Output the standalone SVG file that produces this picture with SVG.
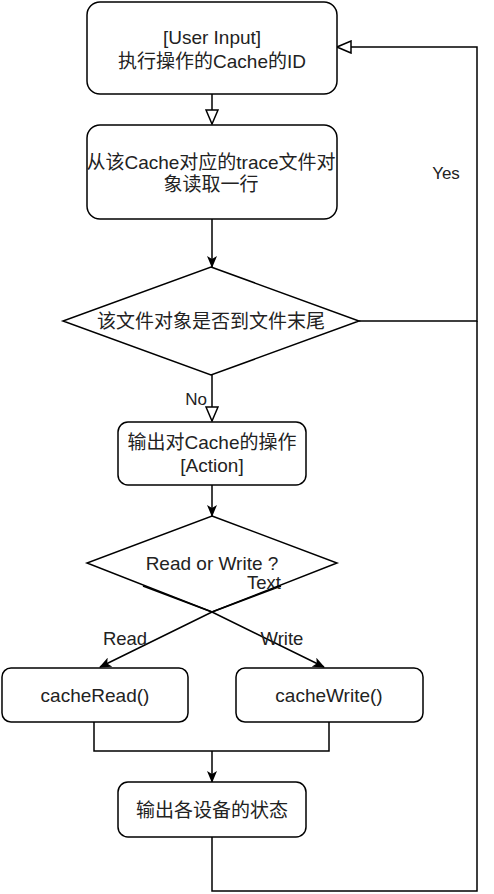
<svg xmlns="http://www.w3.org/2000/svg" width="494" height="894" viewBox="0 0 494 894">
<defs>
<marker id="open" viewBox="0 0 16 14" refX="15" refY="7" markerWidth="16" markerHeight="14" markerUnits="userSpaceOnUse" orient="auto">
<path d="M1,1 L15,7 L1,13 Z" fill="#fff" stroke="#000" stroke-width="1.5"/>
</marker>
<marker id="filled" viewBox="0 0 12 10" refX="11" refY="5" markerWidth="12" markerHeight="10" markerUnits="userSpaceOnUse" orient="auto">
<path d="M0,0 L12,5 L0,10 L3,5 Z" fill="#000"/>
</marker>
</defs>
<style>
.n{fill:#fff;stroke:#000;stroke-width:1.5}
.t{font-family:"Liberation Sans","Noto Sans CJK SC",sans-serif;font-size:19px;fill:#222;text-anchor:middle}
.l{font-family:"Liberation Sans","Noto Sans CJK SC",sans-serif;font-size:18.5px;fill:#222;text-anchor:middle}
.e{fill:none;stroke:#000;stroke-width:1.5}
</style>
<rect width="494" height="894" fill="#fff"/>
<g id="connectors">
<path class="e" d="M212,94 L212,124" marker-end="url(#open)"/>
<path class="e" d="M212,219 L212,267" marker-end="url(#filled)"/>
<path class="e" d="M359,321 L477,321 L477,47 L337,47" marker-end="url(#open)"/>
<path class="e" d="M212,375 L212,421" marker-end="url(#open)"/>
<path class="e" d="M212,485 L212,516" marker-end="url(#filled)"/>
<path class="e" d="M281,586 L212,612 L100,667" marker-end="url(#filled)"/>
<path class="e" d="M143,586 L212,612 L324,667" marker-end="url(#filled)"/>
<path class="e" d="M94,722 L94,751 L329,751 L329,722"/>
<path class="e" d="M212,751 L212,782" marker-end="url(#filled)"/>
<path class="e" d="M212,837 L212,891 L477,891 L477,321"/>
<text class="l" x="446" y="179" style="font-size:17px">Yes</text>
<text class="l" x="207" y="405" style="font-size:17px;text-anchor:end">No</text>
<text class="l" x="125" y="645">Read</text>
<text class="l" x="282" y="645">Write</text>
<text class="l" x="264" y="589">Text</text>
</g>
<g id="n1">
<rect class="n" x="87" y="2" width="250" height="92" rx="13"/>
<text class="t" x="212" y="44">[User Input]</text>
<text class="t" x="212" y="68">执行操作的Cache的ID</text>
</g>
<g id="n2">
<rect class="n" x="87" y="125" width="250" height="94" rx="13"/>
<text class="t" x="211" y="169">从该Cache对应的trace文件对</text>
<text class="t" x="211" y="191">象读取一行</text>
</g>
<g id="n3">
<polygon class="n" points="211,267 359,321 211,375 63,321"/>
<text class="t" x="211" y="328">该文件对象是否到文件末尾</text>
</g>
<g id="n4">
<rect class="n" x="118" y="422" width="188" height="63" rx="10"/>
<text class="t" x="212" y="449">输出对Cache的操作</text>
<text class="t" x="212" y="472">[Action]</text>
</g>
<g id="n5">
<polygon class="n" points="212,516 337,563 212,612 87,563" style="fill:none"/>
<text class="t" x="212" y="570">Read or Write ?</text>
</g>
<g id="n6">
<rect class="n" x="2" y="668" width="186" height="54" rx="9"/>
<text class="t" x="95" y="702">cacheRead()</text>
</g>
<g id="n7">
<rect class="n" x="236" y="668" width="187" height="54" rx="9"/>
<text class="t" x="329" y="702">cacheWrite()</text>
</g>
<g id="n8">
<rect class="n" x="118" y="782" width="188" height="55" rx="10"/>
<text class="t" x="212" y="817">输出各设备的状态</text>
</g>
</svg>
